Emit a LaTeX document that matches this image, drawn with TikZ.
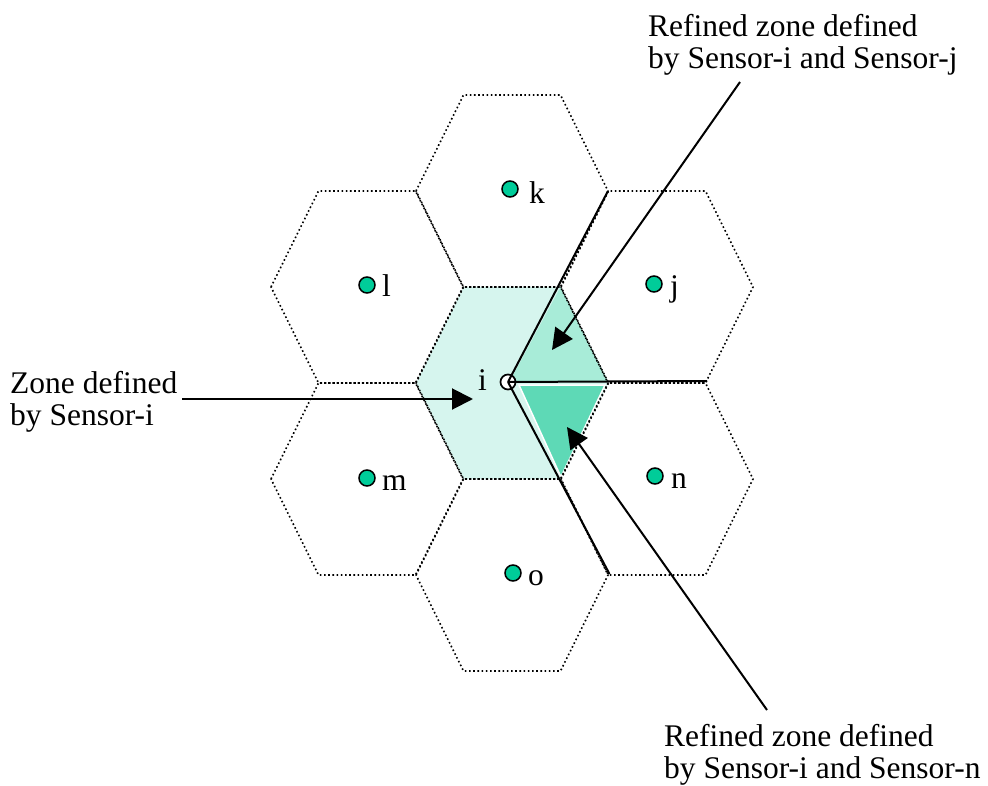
\documentclass[tikz,border=0pt]{standalone}
\usepackage{fontspec}
\setmainfont{Liberation Serif}
\usetikzlibrary{arrows.meta}
\definecolor{dotfill}{HTML}{00CC99}
\definecolor{zonefill}{HTML}{D6F5EE}
\definecolor{refinedj}{HTML}{A8ECD8}
\definecolor{refinedn}{HTML}{5ED9B6}
\tikzset{
  hexedge/.style={line width=1.6pt, dash pattern=on 1.6pt off 2.6pt},
  border/.style={line width=2pt},
  sensor/.style={circle, draw, line width=1.5pt, fill=dotfill, minimum size=16pt, inner sep=0pt},
  home/.style={circle, draw, line width=1.7pt, fill=white, minimum size=15pt, inner sep=0pt},
  tag/.style={font=\fontsize{31.5}{32}\selectfont, inner sep=0pt, anchor=base west},
  caption/.style={font=\fontsize{31.5}{32}\selectfont, inner sep=0pt, anchor=north west, align=left},
  pointer/.style={line width=2pt, -{Triangle[length=21pt,width=21pt]}}
}
\begin{document}
\begin{tikzpicture}[x=1pt, y=-1pt]
\useasboundingbox (0,0) rectangle (988,786);

% zone of sensor i and its two refined parts
\fill[zonefill] (416,383) -- (463.5,287) -- (560.5,287) -- (608,383) -- (560.5,479) -- (463.5,479) -- cycle;
\fill[refinedj] (510,381) -- (560.5,287) -- (608,381) -- cycle;
\filldraw[refinedn, draw=white, line width=1.5pt] (519,385) -- (605,385) -- (561,477) -- cycle;

% hexagonal cells
\foreach \cx/\cy in {512/383, 512/191, 512/575, 367/287, 657/287, 367/479, 657/479}
  \draw[hexedge] ({\cx-96},\cy) -- ({\cx-48.5},{\cy-96}) -- ({\cx+48.5},{\cy-96})
    -- ({\cx+96},\cy) -- ({\cx+48.5},{\cy+96}) -- ({\cx-48.5},{\cy+96}) -- cycle;

% sensors
\node[home] (si) at (508,382) {};
\node[sensor] (sk) at (510,189) {};
\node[sensor] (sl) at (367,285) {};
\node[sensor] (sj) at (654,284) {};
\node[sensor] (sm) at (367,478) {};
\node[sensor] (sn) at (655,476) {};
\node[sensor] (so) at (513,573) {};

\node[tag, anchor=base east] (li) at (487,390) {i};
\node[tag] (lk) at (529,204) {k};
\node[tag] (ll) at (382,297) {l};
\node[tag] (lj) at (670,297) {j};
\node[tag] (lm) at (382,490) {m};
\node[tag] (ln) at (671,488) {n};
\node[tag] (lo) at (528,585) {o};

% boundaries of the refined zones
\coordinate (bj) at (608,191);
\coordinate (bh) at (707,381);
\coordinate (bn) at (609.5,574);
\draw[border] (si.center) -- (bj);
\draw[border] (si.center) -- (bh);
\draw[border] (si.center) -- (bn);

% captions
\node[caption] (czone) at (10,371) {Zone defined\\by Sensor-i};
\node[caption] (cj) at (648,14) {Refined zone defined\\by Sensor-i and Sensor-j};
\node[caption] (cn) at (664,724) {Refined zone defined\\by Sensor-i and Sensor-n};

% pointers
\coordinate (pzs) at (182,399);
\coordinate (pzt) at (473,399);
\coordinate (pjs) at (740,82);
\coordinate (pjt) at (552,350);
\coordinate (pns) at (767,710);
\coordinate (pnt) at (567,427);
\draw[pointer] (pzs) -- (pzt);
\draw[pointer] (pjs) -- (pjt);
\draw[pointer] (pns) -- (pnt);
\end{tikzpicture}
\end{document}
